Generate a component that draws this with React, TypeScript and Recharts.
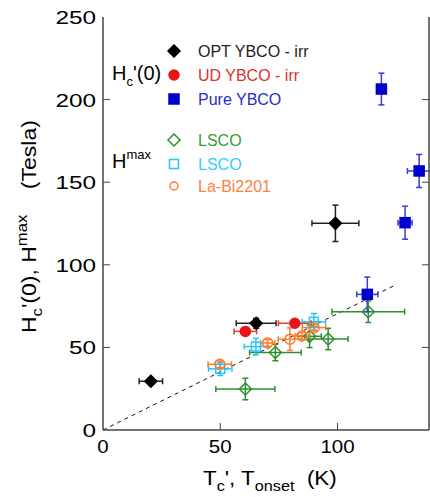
import React from 'react';
import { ScatterChart, Scatter, XAxis, YAxis, ErrorBar, ReferenceLine } from 'recharts';

// OPT YBCO - irr (Hc'(0))
const optX = [20.4, 65.3, 99.1];
const optY = [29.5, 64.6, 125.1];
const optXErr = [5, 8.5, 10];
const optYErr = [2, 3, 11];

// UD YBCO - irr
const udX = [60.7, 81.8];
const udY = [59.7, 64.6];
const udXErr = [4.8, 7];
const udYErr = [1.5, 2];

// Pure YBCO
const pureX = [112.7, 118.7, 128.8, 134.8];
const pureY = [82.1, 206.4, 125.5, 156.8];
const pureXErr = [4.5, 1.5, 3, 5];
const pureYErr = [10.5, 9.6, 10, 10];

// LSCO (Hmax, open diamonds)
const lscoX = [60.7, 73.5, 88.1, 96, 113.1];
const lscoY = [24.8, 46.9, 56.7, 55.1, 71.6];
const lscoXErr = [12.6, 11, 5, 8.5, 15.5];
const lscoYErr = [6.5, 5, 6.8, 6.5, 6.5];

// LSCO (Hmax, open squares)
const lsco2X = [50, 65.2, 89.9];
const lsco2Y = [37, 50.5, 65.5];
const lsco2XErr = [5, 5, 5];
const lsco2YErr = [4, 5, 5];

// La-Bi2201
const labiX = [49.8, 70.2, 79.7, 84.9, 90];
const labiY = [39.8, 52.7, 55, 57, 62];
const labiXErr = [5, 3, 5, 3, 5];
const labiYErr = [2, 2, 6.8, 2, 2];

const fitLine = [
  { x: 0, y: 0 },
  { x: 125, y: 88 },
];

const xTicks = [0, 50, 100];
const yTicks = [0, 50, 100, 150, 200, 250];

const rows = (xs: number[], ys: number[], xe: number[], ye: number[]) =>
  xs.map((x, i) => ({ x, y: ys[i], xe: xe[i], ye: ye[i] }));

const FONT = '"Liberation Sans", Arial, sans-serif';
const LEFT = 103;
const RIGHT = 429;
const TOP = 17;
const BOTTOM = 430;
const AXIS = '#444';

const C_BLACK = '#000000';
const C_RED = '#e8141a';
const C_BLUE = '#0000cc';
const C_GREEN = '#2f8f2f';
const C_CYAN = '#22c8ff';
const C_ORANGE = '#ff7a2a';

const diamond = (color: string, filled: boolean, r: number) => (p: any) => (
  <path
    d={`M${p.cx},${p.cy - r}L${p.cx + r},${p.cy}L${p.cx},${p.cy + r}L${p.cx - r},${p.cy}Z`}
    fill={filled ? color : 'none'}
    stroke={color}
    strokeWidth={1.5}
  />
);
const circle = (color: string, filled: boolean, r: number) => (p: any) => (
  <circle cx={p.cx} cy={p.cy} r={r} fill={filled ? color : 'none'} stroke={color} strokeWidth={1.5} />
);
const square = (color: string, filled: boolean, h: number) => (p: any) => (
  <rect
    x={p.cx - h}
    y={p.cy - h}
    width={2 * h}
    height={2 * h}
    fill={filled ? color : 'none'}
    stroke={color}
    strokeWidth={1.5}
  />
);

const BottomTick = (p: any) => (
  <g>
    {p.payload.value !== 0 && <line x1={p.x} x2={p.x} y1={BOTTOM} y2={BOTTOM - 7} stroke={AXIS} />}
    <text
      transform={`translate(${p.x},453) scale(1.08,1)`}
      textAnchor="middle"
      fontSize={19}
      fill="#000"
      fontFamily={FONT}
    >
      {p.payload.value}
    </text>
  </g>
);
const LeftTick = (p: any) => (
  <g>
    {p.payload.value !== 0 && p.payload.value !== 250 && (
      <line x1={LEFT} x2={LEFT + 7} y1={p.y} y2={p.y} stroke={AXIS} />
    )}
    <text
      transform={`translate(96,${p.y + 7}) scale(1.28,1)`}
      textAnchor="end"
      fontSize={19}
      fill="#000"
      fontFamily={FONT}
    >
      {p.payload.value}
    </text>
  </g>
);
const TopTick = (p: any) => <line x1={p.x} x2={p.x} y1={TOP} y2={TOP + 7} stroke={AXIS} />;
const RightTick = (p: any) => <line x1={RIGHT} x2={RIGHT - 7} y1={p.y} y2={p.y} stroke={AXIS} />;

const series = [
  { name: 'LSCO', data: rows(lscoX, lscoY, lscoXErr, lscoYErr), bar: C_GREEN, shape: diamond(C_GREEN, false, 6) },
  { name: 'LSCO2', data: rows(lsco2X, lsco2Y, lsco2XErr, lsco2YErr), bar: C_CYAN, shape: square(C_CYAN, false, 4.5) },
  { name: 'La-Bi2201', data: rows(labiX, labiY, labiXErr, labiYErr), bar: C_ORANGE, shape: circle(C_ORANGE, false, 5) },
  { name: 'UD', data: rows(udX, udY, udXErr, udYErr), bar: '#e83a3a', shape: circle(C_RED, true, 5) },
  { name: 'OPT', data: rows(optX, optY, optXErr, optYErr), bar: '#222', shape: diamond(C_BLACK, true, 6) },
  { name: 'Pure', data: rows(pureX, pureY, pureXErr, pureYErr), bar: '#3a3ae0', shape: square(C_BLUE, true, 5) },
];

const legendItems = [
  { label: 'OPT YBCO - irr', color: '#222', shape: diamond(C_BLACK, true, 6), y: 51 },
  { label: 'UD YBCO - irr', color: '#e0302f', shape: circle(C_RED, true, 5), y: 75 },
  { label: 'Pure YBCO', color: '#2a2acc', shape: square(C_BLUE, true, 5), y: 99 },
  { label: 'LSCO', color: '#3a9a3a', shape: diamond(C_GREEN, false, 6), y: 140 },
  { label: 'LSCO', color: '#33ccff', shape: square(C_CYAN, false, 4.5), y: 164 },
  { label: 'La-Bi2201', color: '#ff8040', shape: circle(C_ORANGE, false, 4), y: 186 },
];

export default function App() {
  return (
    <div style={{ position: 'absolute', left: 0, top: 0, width: 430, height: 497, fontFamily: FONT, background: '#fff' }}>
      <ScatterChart width={430} height={497} margin={{ top: TOP, right: 0, bottom: 0, left: 0 }}>
        <XAxis
          type="number"
          dataKey="x"
          domain={[0, 139]}
          ticks={xTicks}
          height={67}
          axisLine={{ stroke: AXIS, strokeWidth: 1.5 }}
          tickLine={false}
          tick={BottomTick}
          allowDataOverflow
        />
        <XAxis
          xAxisId="t"
          orientation="top"
          type="number"
          domain={[0, 139]}
          ticks={[50, 100]}
          height={0}
          axisLine={{ stroke: AXIS, strokeWidth: 1.5 }}
          tickLine={false}
          tick={TopTick}
          allowDataOverflow
        />
        <YAxis
          type="number"
          dataKey="y"
          domain={[0, 250]}
          ticks={yTicks}
          width={LEFT}
          axisLine={{ stroke: AXIS, strokeWidth: 1.5 }}
          tickLine={false}
          tick={LeftTick}
          allowDataOverflow
        />
        <YAxis
          yAxisId="r"
          orientation="right"
          type="number"
          domain={[0, 250]}
          ticks={[50, 100, 150, 200]}
          width={1}
          axisLine={{ stroke: AXIS, strokeWidth: 1.5 }}
          tickLine={false}
          tick={RightTick}
          allowDataOverflow
        />
        <ReferenceLine segment={fitLine} stroke="#111" strokeDasharray="4 4" strokeWidth={1} />
        {series.map((s) => (
          <Scatter key={s.name} name={s.name} data={s.data} shape={s.shape} isAnimationActive={false}>
            <ErrorBar dataKey="xe" direction="x" width={3} stroke={s.bar} strokeWidth={1.5} />
            <ErrorBar dataKey="ye" direction="y" width={3} stroke={s.bar} strokeWidth={1.5} />
          </Scatter>
        ))}
      </ScatterChart>
      <svg width={430} height={497} style={{ position: 'absolute', left: 0, top: 0, pointerEvents: 'none' }} fontFamily={FONT}>
        {legendItems.map((l, i) => (
          <g key={i}>
            {l.shape({ cx: 174, cy: l.y })}
            <text x={198} y={l.y + 6} fontSize={16} fill={l.color}>
              {l.label}
            </text>
          </g>
        ))}
        <text x={112} y={80} fontSize={20} fill="#000">
          H<tspan fontSize={13} dy={6}>c</tspan>
          <tspan dy={-6}>'(0)</tspan>
        </text>
        <text x={112} y={168} fontSize={20} fill="#000">
          H<tspan fontSize={13} dy={-9}>max</tspan>
        </text>
        <text transform="translate(36,333) rotate(-90) scale(1.15,1)" fontSize={20} fill="#000">
          H<tspan fontSize={14.5} dy={6}>c</tspan>
          <tspan dy={-6}>'(0), H</tspan>
          <tspan fontSize={14.5} dy={-9}>max</tspan>
          <tspan dy={9}>{'\u00a0\u00a0\u00a0\u00a0(Tesla)'}</tspan>
        </text>
        <text transform="translate(203,485) scale(1.12,1)" fontSize={20} fill="#000">
          T<tspan fontSize={14.5} dy={6}>c</tspan>
          <tspan dy={-6}>', T</tspan>
          <tspan fontSize={14.5} dy={6}>onset</tspan>
          <tspan dy={-6}>{'\u00a0\u00a0(K)'}</tspan>
        </text>
      </svg>
    </div>
  );
}
